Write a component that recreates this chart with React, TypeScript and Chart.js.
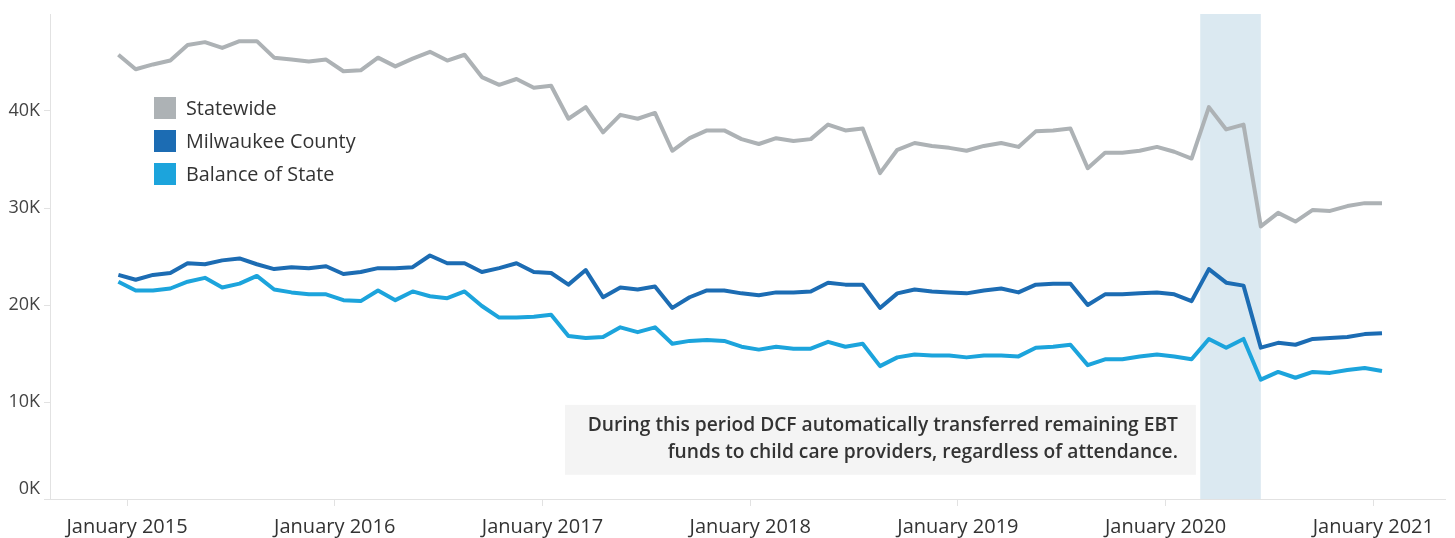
import React, { useEffect, useRef } from 'react';
import { Chart, registerables } from 'chart.js';

Chart.register(...registerables);

// ---------- DATA ----------
const months = [
  '2014-12',
  '2015-01', '2015-02', '2015-03', '2015-04', '2015-05', '2015-06', '2015-07', '2015-08', '2015-09', '2015-10', '2015-11', '2015-12',
  '2016-01', '2016-02', '2016-03', '2016-04', '2016-05', '2016-06', '2016-07', '2016-08', '2016-09', '2016-10', '2016-11', '2016-12',
  '2017-01', '2017-02', '2017-03', '2017-04', '2017-05', '2017-06', '2017-07', '2017-08', '2017-09', '2017-10', '2017-11', '2017-12',
  '2018-01', '2018-02', '2018-03', '2018-04', '2018-05', '2018-06', '2018-07', '2018-08', '2018-09', '2018-10', '2018-11', '2018-12',
  '2019-01', '2019-02', '2019-03', '2019-04', '2019-05', '2019-06', '2019-07', '2019-08', '2019-09', '2019-10', '2019-11', '2019-12',
  '2020-01', '2020-02', '2020-03', '2020-04', '2020-05', '2020-06', '2020-07', '2020-08', '2020-09', '2020-10', '2020-11', '2020-12',
  '2021-01',
];

const statewide = [
  45800,
  44300, 44800, 45200, 46800, 47100, 46500, 47200, 47200, 45500, 45300, 45100, 45300,
  44100, 44200, 45500, 44600, 45400, 46100, 45200, 45800, 43500, 42700, 43300, 42400,
  42600, 39200, 40400, 37800, 39600, 39200, 39800, 35900, 37200, 38000, 38000, 37100,
  36600, 37200, 36900, 37100, 38600, 38000, 38200, 33600, 36000, 36700, 36400, 36200,
  35900, 36400, 36700, 36300, 37900, 38000, 38200, 34100, 35700, 35700, 35900, 36300,
  35800, 35100, 40400, 38100, 38600, 28100, 29500, 28600, 29800, 29700, 30200, 30500,
  30500,
];

const milwaukee = [
  23100,
  22600, 23100, 23300, 24300, 24200, 24600, 24800, 24200, 23700, 23900, 23800, 24000,
  23200, 23400, 23800, 23800, 23900, 25100, 24300, 24300, 23400, 23800, 24300, 23400,
  23300, 22100, 23600, 20800, 21800, 21600, 21900, 19700, 20800, 21500, 21500, 21200,
  21000, 21300, 21300, 21400, 22300, 22100, 22100, 19700, 21200, 21600, 21400, 21300,
  21200, 21500, 21700, 21300, 22100, 22200, 22200, 20000, 21100, 21100, 21200, 21300,
  21100, 20400, 23700, 22300, 22000, 15600, 16100, 15900, 16500, 16600, 16700, 17000,
  17100,
];

const balance = [
  22400,
  21500, 21500, 21700, 22400, 22800, 21800, 22200, 23000, 21600, 21300, 21100, 21100,
  20500, 20400, 21500, 20500, 21400, 20900, 20700, 21400, 19900, 18700, 18700, 18800,
  19000, 16800, 16600, 16700, 17700, 17200, 17700, 16000, 16300, 16400, 16300, 15700,
  15400, 15700, 15500, 15500, 16200, 15700, 16000, 13700, 14600, 14900, 14800, 14800,
  14600, 14800, 14800, 14700, 15600, 15700, 15900, 13800, 14400, 14400, 14700, 14900,
  14700, 14400, 16500, 15600, 16500, 12300, 13100, 12500, 13100, 13000, 13300, 13500,
  13200,
];

const seriesNames = ['Statewide', 'Milwaukee County', 'Balance of State'];
const seriesColors = ['#adb2b5', '#1c6cb3', '#1ca4dc'];

const xTickLabels = [
  'January 2015', 'January 2016', 'January 2017', 'January 2018',
  'January 2019', 'January 2020', 'January 2021',
];
const yTickValues = [0, 10000, 20000, 30000, 40000];

// highlighted period (months since Jan 2015): Mar 1 2020 to mid June 2020
const highlightStart = 62;
const highlightEnd = 65.5;

const noteLines = [
  'During this period DCF automatically transferred remaining EBT',
  'funds to child care providers, regardless of attendance.',
];
// note box in data units (x in months since Jan 2015, y in count)
const noteBox = { x0: 25.3, x1: 61.75, y0: 2500, y1: 9700 };

// axis range (months since Jan 2015)
const xMin = -4.45;
const xMax = 76.14;

// ---------- HELPERS ----------
const FONT = '"Open Sans", "Noto Sans", sans-serif';
const TEXT = '#333333';
const AXIS = '#e2e2e2';

function monthToX(m: string): number {
  const [y, mo] = m.split('-').map(Number);
  return (y - 2015) * 12 + (mo - 1) + 0.5;
}

const decor = {
  id: 'decor',
  beforeDatasetsDraw(chart: any) {
    const { ctx, chartArea, scales } = chart;
    const xs = scales.x;
    const a = xs.getPixelForValue(highlightStart);
    const b = xs.getPixelForValue(highlightEnd);
    ctx.save();
    ctx.fillStyle = '#dbe9f1';
    ctx.fillRect(a, chartArea.top, b - a, chartArea.bottom - chartArea.top);
    ctx.restore();
  },
  afterDraw(chart: any) {
    const { ctx, chartArea, scales } = chart;
    const xs = scales.x;
    const ys = scales.y;
    ctx.save();

    // y tick labels
    ctx.font = `18px ${FONT}`;
    ctx.fillStyle = '#444';
    ctx.textAlign = 'right';
    ctx.textBaseline = 'middle';
    yTickValues.forEach((v) => {
      let py = ys.getPixelForValue(v);
      if (v === 0) py -= 10;
      ctx.fillText(`${v / 1000}K`, chartArea.left - 10, py);
    });

    // legend
    const lx = chartArea.left + 104;
    const ly = 108;
    ctx.font = `19.8px ${FONT}`;
    ctx.textAlign = 'left';
    ctx.textBaseline = 'middle';
    seriesNames.forEach((name, i) => {
      const cy = ly + i * 33;
      ctx.fillStyle = seriesColors[i];
      ctx.fillRect(lx, cy - 11, 22, 22);
      ctx.fillStyle = TEXT;
      ctx.fillText(name, lx + 32, cy + 1);
    });

    // note box
    const bx0 = xs.getPixelForValue(noteBox.x0);
    const bx1 = xs.getPixelForValue(noteBox.x1);
    const by0 = ys.getPixelForValue(noteBox.y1);
    const by1 = ys.getPixelForValue(noteBox.y0);
    ctx.fillStyle = '#f4f4f4';
    ctx.fillRect(bx0, by0, bx1 - bx0, by1 - by0);
    ctx.fillStyle = TEXT;
    ctx.font = `600 19.2px ${FONT}`;
    ctx.textAlign = 'right';
    ctx.textBaseline = 'middle';
    noteLines.forEach((line, i) => {
      ctx.fillText(line, bx1 - 18, by0 + 21 + i * 27);
    });

    ctx.restore();
  },
};

export default function App() {
  const ref = useRef<HTMLCanvasElement>(null);

  useEffect(() => {
    const canvas = ref.current;
    if (!canvas) return;
    const values = [statewide, milwaukee, balance];
    const chart = new Chart(canvas, {
      type: 'line',
      data: {
        datasets: seriesNames.map((name, k) => ({
          label: name,
          data: months.map((m, i) => ({ x: monthToX(m), y: values[k][i] })),
          borderColor: seriesColors[k],
          backgroundColor: seriesColors[k],
          borderWidth: 4,
          pointRadius: 0,
          tension: 0,
          borderJoinStyle: 'round' as const,
        })),
      },
      options: {
        responsive: false,
        animation: false,
        devicePixelRatio: 1,
        layout: { padding: { top: 14, right: 10, left: 0, bottom: 0 } },
        plugins: {
          legend: { display: false },
          tooltip: { enabled: false },
        },
        scales: {
          x: {
            type: 'linear',
            min: xMin,
            max: xMax,
            afterBuildTicks: (s: any) => {
              s.ticks = xTickLabels.map((_, i) => ({ value: i * 12 }));
            },
            afterFit: (s: any) => {
              s.height = 39;
            },
            ticks: {
              callback: (v: any) => xTickLabels[Math.round(Number(v) / 12)] ?? '',
              font: { family: FONT, size: 20 },
              color: TEXT,
              padding: 9,
              maxRotation: 0,
              autoSkip: false,
            },
            grid: { drawOnChartArea: false, drawTicks: true, tickLength: 7, color: AXIS },
            border: { display: true, color: AXIS },
          },
          y: {
            type: 'linear',
            min: 0,
            max: 50000,
            afterBuildTicks: (s: any) => {
              s.ticks = yTickValues.map((v) => ({ value: v }));
            },
            afterFit: (s: any) => {
              s.width = 50;
            },
            ticks: { display: false },
            grid: { drawOnChartArea: false, drawTicks: true, tickLength: 6, color: AXIS },
            border: { display: true, color: AXIS },
          },
        },
      },
      plugins: [decor],
    });
    return () => chart.destroy();
  }, []);

  return (
    <div style={{ position: 'absolute', left: 0, top: 0, width: 1455, height: 538, background: '#fff' }}>
      <canvas ref={ref} width={1455} height={538} style={{ width: 1455, height: 538, display: 'block' }} />
    </div>
  );
}
